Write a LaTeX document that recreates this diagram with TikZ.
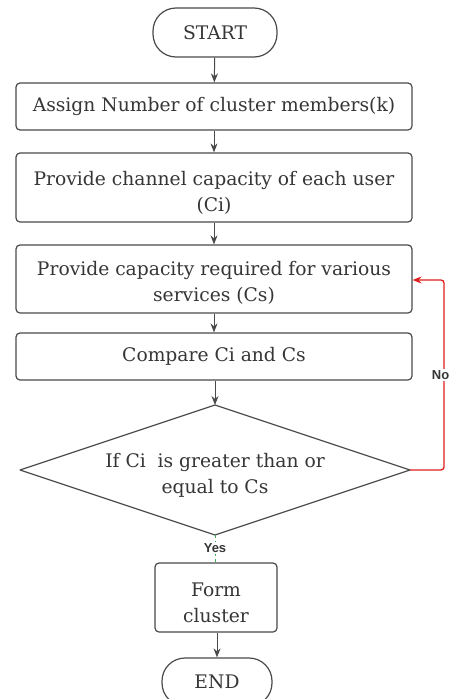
\documentclass[tikz,border=0pt]{standalone}
\usepackage{fontspec}
\setmainfont{DejaVu Serif}
\newfontfamily\tagfont{Liberation Sans}
\usetikzlibrary{arrows.meta}
\definecolor{edgegray}{HTML}{4A4A4A}
\definecolor{txtgray}{HTML}{363636}
\definecolor{noline}{HTML}{E01E1E}
\definecolor{yesline}{HTML}{3FAF5A}
\tikzset{
  base/.style={draw=edgegray, line width=1.2pt, fill=white, text=txtgray,
    font=\fontsize{18.7}{26}\selectfont, align=center, inner sep=0pt},
  procbox/.style={base, rectangle, rounded corners=4pt},
  termbox/.style={base, rectangle, rounded corners=23pt},
  plaintext/.style={text=txtgray, font=\fontsize{18.7}{26}\selectfont, align=center, inner sep=0pt},
  flow/.style={draw=edgegray, line width=1pt, -{Stealth[length=9pt,width=7pt]}},
  noflow/.style={draw=noline, line width=1.3pt, rounded corners=3pt, -{Stealth[length=9pt,width=7pt]}},
  yesflow/.style={draw=yesline, line width=1pt, dashed},
  tag/.style={font=\tagfont\bfseries\fontsize{13}{15}\selectfont, text=txtgray, fill=white, inner sep=1pt}
}
\begin{document}
\begin{tikzpicture}[x=1pt, y=-1pt]
  \useasboundingbox (0,0) rectangle (451,699);
  \clip (0,0) rectangle (451,699);
  \fill[white] (0,0) rectangle (451,699);

  % terminals and single-line steps
  \node[termbox, minimum width=124pt, minimum height=49pt] (start) at (215,32.5) {START};
  \node[procbox, minimum width=396pt, minimum height=47pt] (assign) at (214,106.5) {Assign Number of cluster members(k)};
  \node[procbox, minimum width=396pt, minimum height=47pt] (cmp) at (214,356.5) {Compare Ci and Cs};

  % two-line steps: frame first, wording set slightly low inside it
  \node[procbox, minimum width=396pt, minimum height=69pt] (chan) at (214,187.5) {};
  \node[plaintext, yshift=-5pt] (chantext) at (chan.center) {Provide channel capacity of each user\\(Ci)};
  \node[procbox, minimum width=396pt, minimum height=68pt] (serv) at (214,279) {};
  \node[plaintext, yshift=-4pt] (servtext) at (serv.center) {Provide capacity required for various\\services (Cs)};

  % decision diamond: outline through its four corners, text in the middle
  \coordinate (dectop) at (215,405);
  \coordinate (decright) at (410,470);
  \coordinate (decbot) at (215,535);
  \coordinate (decleft) at (20,470);
  \draw[draw=edgegray, line width=1.2pt, fill=white, line join=round]
    (dectop) -- (decright) -- (decbot) -- (decleft) -- cycle;
  \node[plaintext] (dec) at (215,475) {If Ci\ \ is greater than or\\equal to Cs};

  \node[procbox, minimum width=122pt, minimum height=69pt] (form) at (216,597.5) {};
  \node[plaintext, yshift=-5pt] (formtext) at (form.center) {Form\\cluster};
  \node[termbox, minimum width=110pt, minimum height=48pt] (stop) at (217,682) {END};

  % connectors
  \draw[flow] (start) -- (assign);
  \draw[flow] (assign) -- (chan);
  \draw[flow] (chan) -- (serv);
  \draw[flow] (serv) -- (cmp);
  \draw[flow] (cmp.south -| dectop) -- (dectop);
  \draw[yesflow] (decbot) -- (decbot |- form.north);
  \node[tag] (yes) at (215,548) {Yes};
  \draw[flow] (form.south -| stop.north) -- (stop.north);

  \coordinate (nobot) at (444,470);
  \coordinate (notop) at (444,280);
  \draw[noflow] (decright) -- (nobot) -- (notop) -- (serv.east |- notop);
  \node[tag, anchor=east] (no) at (450.5,375) {No};
\end{tikzpicture}
\end{document}
